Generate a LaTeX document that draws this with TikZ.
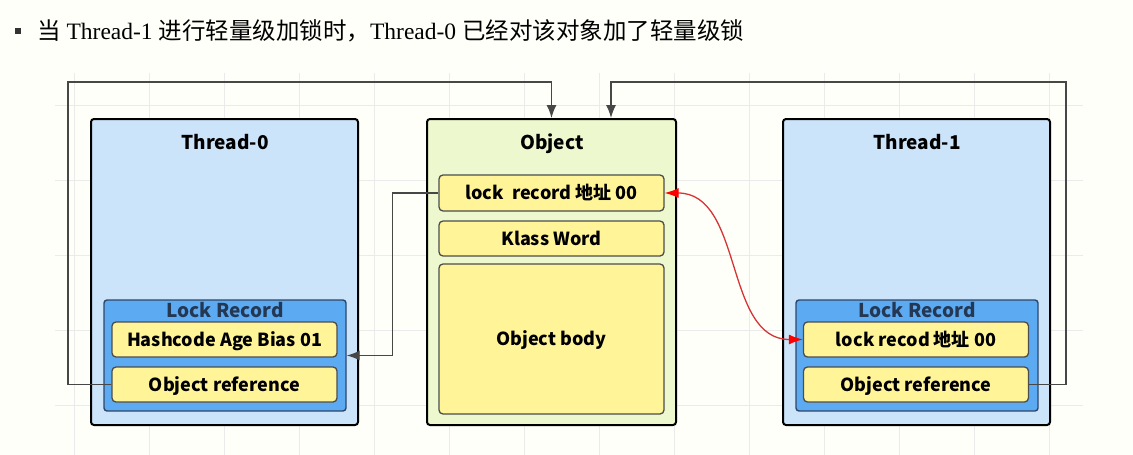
\documentclass[tikz,border=0pt]{standalone}
\usepackage{fontspec}
\usepackage{xcolor}
\usetikzlibrary{arrows.meta,calc}
\setmainfont{Liberation Serif}
\newfontfamily\cjk{Noto Sans CJK SC}
\definecolor{threadblue}{RGB}{204,228,250}
\definecolor{lockblue}{RGB}{92,170,242}
\definecolor{lockedge}{RGB}{45,70,105}
\definecolor{cellyellow}{RGB}{255,245,152}
\definecolor{objgreen}{RGB}{238,248,206}
\definecolor{linkred}{RGB}{214,52,52}
\tikzset{
  threadbox/.style={draw=black,line width=2pt,rounded corners=3pt,fill=threadblue,minimum width=267pt,minimum height=306pt,inner sep=0pt},
  objbox/.style={threadbox,fill=objgreen,minimum width=249pt},
  lockbox/.style={draw=lockedge,line width=1.4pt,rounded corners=3pt,fill=lockblue,minimum width=242pt,minimum height=111pt,inner sep=0pt},
  cellbox/.style={draw=black!70,line width=1.3pt,rounded corners=4pt,fill=cellyellow,minimum width=225pt,minimum height=35pt,inner sep=0pt,text height=13pt,text depth=0pt,font=\cjk\bfseries\fontsize{18}{21}\selectfont},
  label/.style={text height=13.5pt,text depth=0pt,font=\cjk\bfseries\fontsize{19}{22}\selectfont},
  link/.style={draw=black!72,line width=1.4pt,-{Latex[length=13pt,width=10pt]}},
  redlink/.style={draw=linkred,line width=1.3pt,{Latex[length=14pt,width=10pt,color=red]}-{Latex[length=14pt,width=10pt,color=red]}},
  gridline/.style={draw=black!8,line width=0.8pt}
}
\begin{document}
\begin{tikzpicture}[x=1pt,y=-1pt]
\fill[white!98!yellow](0,0)rectangle(1133,455);
\useasboundingbox(0,0)rectangle(1133,455);
\foreach \gx in {74,149,...,1049}
  \draw[gridline](\gx,73)--(\gx,455);
\foreach \gy in {105,180,...,405}
  \draw[gridline](55,\gy)--(1083,\gy);
\node[fill=black!80,minimum size=6pt,inner sep=0pt](dot)at(18,31){};
\node[anchor=west,inner sep=0pt,font=\fontsize{23.5}{28}\selectfont](title)at(37,31){{\cjk 当} Thread-1 {\cjk 进行轻量级加锁时，}Thread-0 {\cjk 已经对该对象加了轻量级锁}};
\node[threadbox](t0)at(224.5,272){};
\node[objbox](obj)at(551.5,272){};
\node[threadbox](t1)at(916.5,272){};
\node[label]at(225,143){Thread-0};
\node[label]at(552,143){Object};
\node[label]at(917,143){Thread-1};
\node[lockbox](lr0)at(225,355.5){};
\node[lockbox](lr1)at(917,355.5){};
\node[label,text=lockedge!80!black]at(225,311){Lock Record};
\node[label,text=lockedge!80!black]at(917,311){Lock Record};
\node[cellbox](hash0)at(224.5,339.5){Hashcode Age Bias 01};
\node[cellbox](ref0)at(224.5,384.5){Object reference};
\node[cellbox](lock1)at(916,339.5){lock recod 地址 00};
\node[cellbox](ref1)at(916,384.5){Object reference};
\node[cellbox,minimum height=36pt](objlock)at(551.5,193){lock\ \ record 地址 00};
\node[cellbox](klass)at(551.5,238.5){Klass Word};
\node[cellbox,minimum height=150pt](body)at(551.5,339){Object body};
\coordinate(bend0)at(68,82);
\coordinate(bend1)at(1066,82);
\draw[link](ref0.west)-|(bend0)-|(obj.north);
\draw[link](ref1.east)-|(bend1)-|($(obj.north)+(59.5,0)$);
\draw[link](objlock.west)-|($(lr0.east)+(46,0)$)--(lr0.east);
\draw[redlink](objlock.east)to[out=0,in=180](lock1.west);
\end{tikzpicture}
\end{document}
